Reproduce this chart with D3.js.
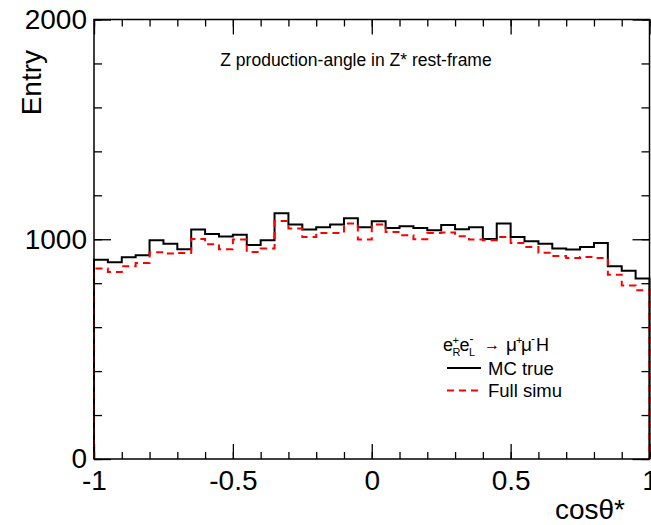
<!DOCTYPE html>
<html>
<head>
<meta charset="utf-8">
<script src="https://cdn.jsdelivr.net/npm/d3@7"></script>
<style>
  body { margin: 0; background: #fff; }
  svg { display: block; }
  text { font-family: "Liberation Sans", Arial, Helvetica, sans-serif; fill: #000; }
</style>
</head>
<body>
<svg id="chart" width="651" height="525"></svg>
<script>
// 40 bins of width 0.05 between cos = -1 and 1
const binEdgesRange = [-1, 1]
const mcTrue = [907, 895, 918, 927, 995, 979, 955, 1044, 1024, 1013,
                1020, 974, 995, 1118, 1067, 1044, 1055, 1067, 1096, 1055,
                1082, 1051, 1059, 1051, 1041, 1065, 1046, 1055, 1001, 1072,
                1010, 991, 980, 958, 953, 965, 983, 877, 857, 821]
const fullSimu = [867, 851, 877, 892, 941, 935, 938, 1001, 977, 954,
                  999, 942, 958, 1083, 1049, 1010, 1029, 1029, 1072, 999,
                  1067, 1033, 1018, 1000, 1029, 1031, 1014, 999, 995, 1010,
                  983, 965, 939, 924, 915, 919, 915, 839, 790, 768]
const xMajor = [-1, -0.5, 0, 0.5, 1]
const xMinor = d3.range(-10, 11).map(d => d / 10)
const yMajor = [0, 1000, 2000]
const yMinor = d3.range(0, 11).map(d => d * 200)
const title = "Z production-angle in Z* rest-frame"

const svg = d3.select('#chart')
const margin = ({ top: 19.5, right: 1.5, bottom: 66, left: 94 })
const width = 651, height = 525

const x = d3.scaleLinear()
    .domain(binEdgesRange)
    .range([margin.left, width - margin.right])
const y = d3.scaleLinear()
    .domain([0, 2000])
    .range([height - margin.bottom, margin.top])

const nBins = mcTrue.length
const binW = (binEdgesRange[1] - binEdgesRange[0]) / nBins

// step outline like a ROOT histogram
const histPoints = (vals) => {
    const pts = [[binEdgesRange[0], 0]]
    vals.forEach((v, i) => pts.push([binEdgesRange[0] + i * binW, v]))
    pts.push([binEdgesRange[1], vals[vals.length - 1]])
    pts.push([binEdgesRange[1], 0])
    return pts
}
const line = d3.line()
    .x(d => x(d[0]))
    .y(d => y(d[1]))
    .curve(d3.curveStepAfter)

// plain hyphen instead of the unicode minus d3 uses
const fmt = d => String(d)

// Axis ticks (inward, on all four sides)
const tickGroup = (axis, tx, ty) => {
    const g = svg.append('g')
        .attr('transform', `translate(${tx},${ty})`)
        .call(axis)
    g.select('.domain').remove()
    g.selectAll('line').attr('stroke', '#000').attr('stroke-width', 1.3)
    return g
}
const y0 = y(0), y1 = y(2000), x0 = x(-1), x1 = x(1)

tickGroup(d3.axisBottom(x).tickValues(xMinor).tickSizeInner(-7).tickSizeOuter(0).tickFormat(''), 0, y0)
tickGroup(d3.axisTop(x).tickValues(xMinor).tickSizeInner(-7).tickSizeOuter(0).tickFormat(''), 0, y1)
tickGroup(d3.axisLeft(y).tickValues(yMinor).tickSizeInner(-8).tickSizeOuter(0).tickFormat(''), x0, 0)
tickGroup(d3.axisRight(y).tickValues(yMinor).tickSizeInner(-8).tickSizeOuter(0).tickFormat(''), x1, 0)

const xAxis = tickGroup(d3.axisBottom(x).tickValues(xMajor).tickSizeInner(-15).tickSizeOuter(0)
    .tickPadding(11).tickFormat(fmt), 0, y0)
xAxis.selectAll('text').attr('font-size', 28)
    .attr('font-family', '"Liberation Sans", Arial, sans-serif')
tickGroup(d3.axisTop(x).tickValues(xMajor).tickSizeInner(-15).tickSizeOuter(0).tickFormat(''), 0, y1)

const yAxis = tickGroup(d3.axisLeft(y).tickValues(yMajor).tickSizeInner(-17).tickSizeOuter(0)
    .tickPadding(7).tickFormat(fmt), x0, 0)
yAxis.selectAll('text').attr('font-size', 28)
    .attr('font-family', '"Liberation Sans", Arial, sans-serif')
tickGroup(d3.axisRight(y).tickValues(yMajor).tickSizeInner(-17).tickSizeOuter(0).tickFormat(''), x1, 0)

// Histograms
svg.append('path')
    .attr('d', line(histPoints(mcTrue)))
    .attr('fill', 'none')
    .attr('stroke', '#000')
    .attr('stroke-width', 2)

svg.append('path')
    .attr('d', line(histPoints(fullSimu)))
    .attr('fill', 'none')
    .attr('stroke', '#ff0000')
    .attr('stroke-width', 2)
    .attr('stroke-dasharray', '7,5')

// Frame
svg.append('rect')
    .attr('x', x0).attr('y', y1)
    .attr('width', x1 - x0).attr('height', y0 - y1)
    .attr('fill', 'none')
    .attr('stroke', '#000')
    .attr('stroke-width', 1.5)

// Titles
svg.append('text')
    .attr('x', 356).attr('y', 66)
    .attr('text-anchor', 'middle')
    .attr('font-size', 17.5)
    .text(title)

svg.append('text')
    .attr('transform', 'translate(41,50) rotate(-90)')
    .attr('text-anchor', 'end')
    .attr('font-size', 28)
    .text('Entry')

svg.append('text')
    .attr('x', 625).attr('y', 519)
    .attr('text-anchor', 'end')
    .attr('font-size', 28)
    .text('cosθ*')

// Legend
const leg = svg.append('g')
const hdrY = 351
const part = (tx, ty, str, size, fam) => leg.append('text')
    .attr('x', tx).attr('y', ty).attr('font-size', size)
    .attr('font-family', fam || null).text(str)
part(443, hdrY, 'e', 18)
part(452.5, hdrY - 7.5, '+', 11)
part(452.5, hdrY + 4.5, 'R', 11)
part(459.5, hdrY, 'e', 18)
part(469.5, hdrY - 8, '-', 12)
part(469, hdrY + 5, 'L', 11)
part(484, hdrY - 1, '→', 16, '"DejaVu Sans", sans-serif')
part(506, hdrY, 'μ', 19, '"Liberation Serif", serif')
part(516, hdrY - 7.5, '+', 11)
part(521, hdrY, 'μ', 19, '"Liberation Serif", serif')
part(531, hdrY - 8, '-', 12)
part(536, hdrY, 'H', 18)

leg.append('line')
    .attr('x1', 447).attr('x2', 481).attr('y1', 368).attr('y2', 368)
    .attr('stroke', '#000').attr('stroke-width', 2)
part(488, 374.5, 'MC true', 18.5)
leg.append('line')
    .attr('x1', 447).attr('x2', 481).attr('y1', 390.5).attr('y2', 390.5)
    .attr('stroke', '#ff0000').attr('stroke-width', 2).attr('stroke-dasharray', '7,5')
part(488, 396.5, 'Full simu', 18.5)
</script>
</body>
</html>
